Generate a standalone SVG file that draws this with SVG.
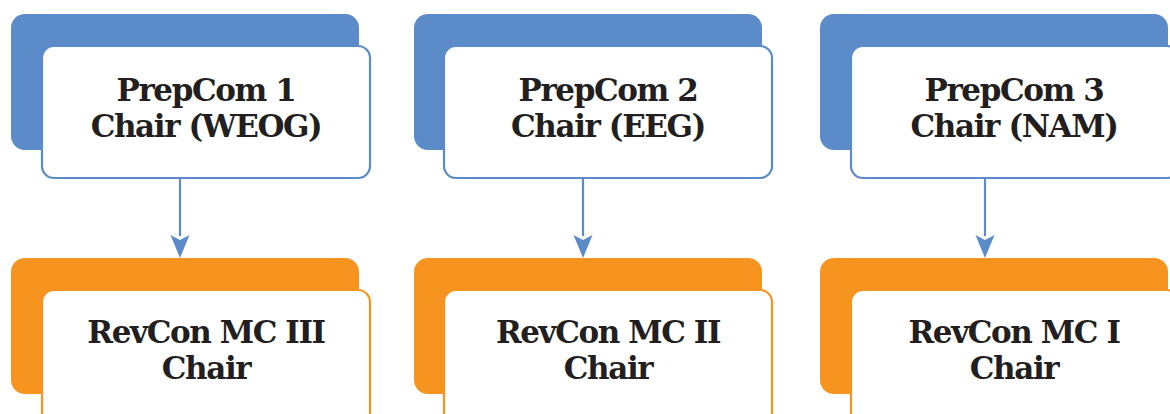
<svg xmlns="http://www.w3.org/2000/svg" width="1170" height="414" viewBox="0 0 1170 414">
<style>
.bb{fill:#5b8bc8}
.bf{fill:#fff;stroke:#5b8bc8;stroke-width:2.2}
.ob{fill:#f7941f}
.of{fill:#fff;stroke:#f7941f;stroke-width:2.2}
.t{font-family:'DejaVu Serif',serif;font-weight:700;font-size:31px;letter-spacing:-1.4px;fill:#231f20;text-anchor:middle}
.c{stroke:#5b8bc8;stroke-width:2.2;fill:none}
.ah{fill:#5b8bc8}
</style>
<g id="connectors">
<line class="c" x1="180" y1="179" x2="180" y2="236"/>
<path class="ah" d="M170.5,235 L180,240 L189.5,235 L180,258 Z"/>
<line class="c" x1="583" y1="179" x2="583" y2="236"/>
<path class="ah" d="M573.5,235 L583,240 L592.5,235 L583,258 Z"/>
<line class="c" x1="985" y1="179" x2="985" y2="236"/>
<path class="ah" d="M975.5,235 L985,240 L994.5,235 L985,258 Z"/>
</g>
<g id="prepcom1">
<rect class="bb" x="11" y="14" width="348" height="136" rx="14"/>
<rect class="bf" x="42" y="46" width="328" height="132" rx="12"/>
<text class="t" x="206" y="101">PrepCom 1</text>
<text class="t" x="206" y="137">Chair (WEOG)</text>
</g>
<g id="prepcom2">
<rect class="bb" x="414" y="14" width="348" height="136" rx="14"/>
<rect class="bf" x="444" y="46" width="328" height="132" rx="12"/>
<text class="t" x="608" y="101">PrepCom 2</text>
<text class="t" x="608" y="137">Chair (EEG)</text>
</g>
<g id="prepcom3">
<rect class="bb" x="820" y="14" width="348" height="136" rx="14"/>
<rect class="bf" x="851" y="46" width="328" height="132" rx="12"/>
<text class="t" x="1014" y="101">PrepCom 3</text>
<text class="t" x="1014" y="137">Chair (NAM)</text>
</g>
<g id="revcon3">
<rect class="ob" x="11" y="258" width="348" height="136" rx="14"/>
<rect class="of" x="42" y="290" width="328" height="150" rx="12"/>
<text class="t" x="206" y="343">RevCon MC III</text>
<text class="t" x="206" y="379">Chair</text>
</g>
<g id="revcon2">
<rect class="ob" x="414" y="258" width="348" height="136" rx="14"/>
<rect class="of" x="444" y="290" width="328" height="150" rx="12"/>
<text class="t" x="608" y="343">RevCon MC II</text>
<text class="t" x="608" y="379">Chair</text>
</g>
<g id="revcon1">
<rect class="ob" x="820" y="258" width="348" height="136" rx="14"/>
<rect class="of" x="851" y="290" width="328" height="150" rx="12"/>
<text class="t" x="1014" y="343">RevCon MC I</text>
<text class="t" x="1014" y="379">Chair</text>
</g>
</svg>
